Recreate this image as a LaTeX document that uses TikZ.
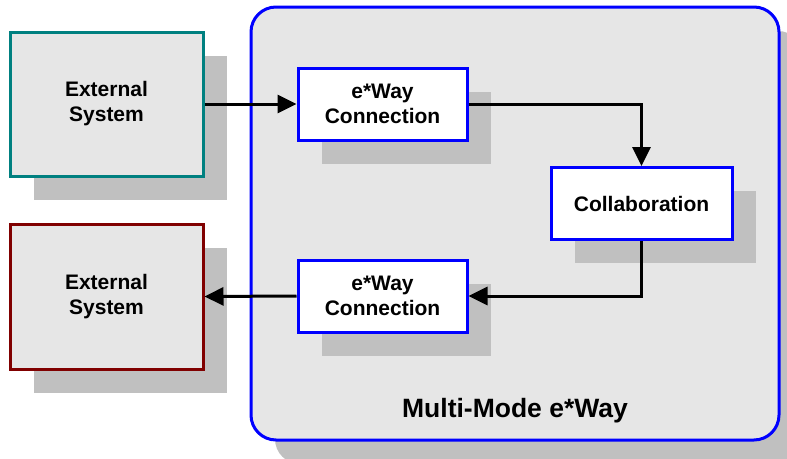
\documentclass[tikz,border=0pt]{standalone}
\usepackage{fontspec}
\setmainfont{Liberation Sans}
\usetikzlibrary{arrows.meta}
\definecolor{boxgray}{HTML}{E6E6E6}
\definecolor{shadowgray}{HTML}{C0C0C0}
\definecolor{tealb}{HTML}{008080}
\definecolor{redb}{HTML}{800000}
\definecolor{blueb}{HTML}{0000FF}
\begin{document}
\begin{tikzpicture}[x=1pt,y=-1pt,
  boxtext/.style={font=\fontsize{21}{25}\selectfont\bfseries, align=center, inner sep=0pt},
  extbox/.style={boxtext, fill=boxgray, line width=3pt, minimum width=193pt, minimum height=144pt},
  ewaybox/.style={boxtext, fill=white, draw=blueb, line width=3pt, minimum height=72pt},
  shadowfill/.style={fill=shadowgray},
  conn/.style={line width=3pt, -{Triangle[length=19pt,width=18pt]}}
]
\clip (0,0) rectangle (787,458);
\useasboundingbox (0,0) rectangle (787,458);
% big container
\fill[shadowfill, rounded corners=25pt] (275,31) rectangle (803,464);
\node[draw=blueb, fill=boxgray, line width=3pt, rounded corners=25pt,
      minimum width=528pt, minimum height=433pt, inner sep=0pt] (mm) at (515,223.5) {};
\node[font=\fontsize{26.5}{30}\selectfont\bfseries, inner sep=0pt] (lbl) at (515,411) {Multi-Mode e*Way};
% shadows
\fill[shadowfill] (34,56) rectangle (227,200);
\fill[shadowfill] (34,248) rectangle (227,393);
\fill[shadowfill] (322,92) rectangle (491,164);
\fill[shadowfill] (575,191) rectangle (756,263);
\fill[shadowfill] (322,284) rectangle (491,356);
% boxes
\node[extbox, draw=tealb] (ext1) at (106.5,104) {External\\System};
\node[extbox, draw=redb, minimum height=145pt] (ext2) at (106.5,296.5) {External\\System};
\node[ewaybox, minimum width=169pt] (ew1) at (382.5,104) {e*Way\\Connection};
\node[ewaybox, minimum width=181pt] (collab) at (641.5,203.5) {Collaboration};
\node[ewaybox, minimum width=169pt] (ew2) at (382.5,296) {e*Way\\Connection};
% connectors
\draw[conn] (ext1.east) -- (ew1.west);
\draw[conn] (ew1.east) -| (collab.north);
\draw[conn] (collab.south) |- (ew2.east);
\draw[conn] (ew2.west) -- (ext2.east);
\end{tikzpicture}
\end{document}
